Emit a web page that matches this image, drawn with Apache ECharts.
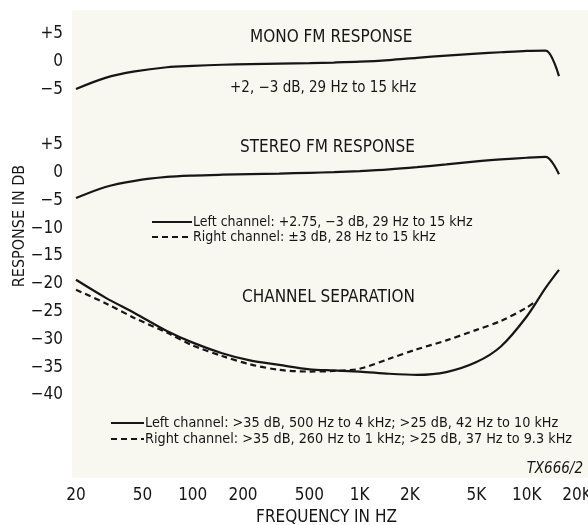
<!DOCTYPE html>
<html><head><meta charset="utf-8">
<script src="https://cdn.jsdelivr.net/npm/echarts@6/dist/echarts.min.js"></script>
<style>html,body{margin:0;padding:0;background:#fff}#c{width:588px;height:525px}</style>
</head><body><div id="c"></div>
<script>
// ---- data ----
const xTickFreqs = [20, 50, 100, 200, 500, 1000, 2000, 5000, 10000, 20000];
const xTickLabels = ['20', '50', '100', '200', '500', '1K', '2K', '5K', '10K', '20K'];
const yTicksMono = [-5, 0, 5];
const yTicksLower = [-40, -35, -30, -25, -20, -15, -10, -5, 0, 5];

const monoFreq = [20, 30, 45, 70, 100, 150, 220, 330, 500, 700, 1000, 1500, 2200, 3300, 5000, 7000, 10000, 13000, 15600];
const monoDb = [-4.9, -2.9, -1.75, -1.0, -0.75, -0.55, -0.45, -0.35, -0.25, -0.15, 0, 0.3, 0.7, 1.1, 1.45, 1.7, 1.95, 2.0, -2.6];

const stereoFreq = [20, 30, 45, 70, 100, 150, 220, 330, 500, 700, 1000, 1500, 2200, 3300, 5000, 7000, 10000, 13000, 15600];
const stereoLeftDb = [-4.6, -2.6, -1.5, -0.8, -0.55, -0.4, -0.3, -0.2, -0.05, 0.05, 0.25, 0.55, 0.95, 1.45, 2.0, 2.35, 2.65, 2.8, -0.3];
const stereoRightDb = [];

const sepLeftFreq = [20, 30, 45, 70, 100, 150, 220, 330, 500, 700, 1000, 1500, 2200, 3300, 5000, 7000, 10000, 13000, 15600];
const sepLeftDb = [-19.3, -22.5, -25.3, -28.5, -30.6, -32.5, -33.8, -34.6, -35.4, -35.6, -35.8, -36.2, -36.4, -35.9, -34.1, -31.3, -25.9, -20.7, -17.5];
const sepRightFreq = [20, 30, 45, 70, 100, 150, 220, 330, 500, 700, 1000, 1500, 2200, 3300, 5000, 7000, 10000, 11300];
const sepRightDb = [-21.1, -23.5, -26.2, -28.8, -31.1, -33.0, -34.5, -35.5, -35.8, -35.7, -35.3, -33.5, -31.8, -30.2, -28.3, -26.7, -24.3, -23.2];

const nameStereoL = 'Left channel: +2.75, \u22123 dB, 29 Hz to 15 kHz';
const nameStereoR = 'Right channel: \u00b13 dB, 28 Hz to 15 kHz';
const nameSepL = 'Left channel: >35 dB, 500 Hz to 4 kHz; >25 dB, 42 Hz to 10 kHz';
const nameSepR = 'Right channel: >35 dB, 260 Hz to 1 kHz; >25 dB, 37 Hz to 9.3 kHz';

// ---- chart ----
const FONT = "'Liberation Sans Narrow', 'DejaVu Sans Condensed', 'Liberation Sans', sans-serif";
const INK = '#161616';
const pair = (fs, vs) => fs.map((f, i) => [Math.log10(f), vs[i]]);
const xMin = Math.log10(20), xMax = Math.log10(20000);
const yFmt = v => v > 0 ? '+' + v : (v < 0 ? '\u2212' + (-v) : '0');
const xFmt = v => {
  const i = xTickFreqs.findIndex(f => Math.abs(Math.log10(f) - v) < 1e-6);
  return i >= 0 ? xTickLabels[i] : '';
};
const lineBase = { type: 'line', showSymbol: false, symbol: 'none', smooth: 0.3, silent: true };

const chart = echarts.init(document.getElementById('c'), null, { renderer: 'canvas' });
chart.setOption({
  animation: false,
  backgroundColor: '#ffffff',
  textStyle: { fontFamily: FONT, color: INK },
  grid: [
    { left: 76, right: 11, top: 6.1, height: 111.2, containLabel: false, outerBoundsMode: 'none' },
    { left: 76, right: 11, top: 116.9, height: 361.4, containLabel: false, outerBoundsMode: 'none' }
  ],
  xAxis: [
    { gridIndex: 0, type: 'value', min: xMin, max: xMax, show: false },
    {
      gridIndex: 1, type: 'value', min: xMin, max: xMax,
      axisLine: { show: false }, axisTick: { show: false }, splitLine: { show: false },
      axisLabel: { customValues: xTickFreqs.map(f => Math.log10(f)), formatter: xFmt, margin: 9,
        fontSize: 17, fontFamily: FONT, color: INK },
      name: 'FREQUENCY IN HZ', nameLocation: 'middle', nameGap: 31,
      nameTextStyle: { fontSize: 17, fontFamily: FONT, color: INK }
    }
  ],
  yAxis: [
    {
      gridIndex: 0, type: 'value', min: -10, max: 10, interval: 5,
      axisLine: { show: false }, axisTick: { show: false }, splitLine: { show: false },
      axisLabel: { customValues: yTicksMono, formatter: yFmt, margin: 13, fontSize: 17, fontFamily: FONT, color: INK }
    },
    {
      gridIndex: 1, type: 'value', min: -55, max: 10, interval: 5,
      axisLine: { show: false }, axisTick: { show: false }, splitLine: { show: false },
      axisLabel: { customValues: yTicksLower, formatter: yFmt, margin: 13, fontSize: 17, fontFamily: FONT, color: INK }
    }
  ],
  legend: [
    {
      data: [nameStereoL, nameStereoR], orient: 'vertical', left: 146, top: 210,
      itemWidth: 40, itemHeight: 10, itemGap: 1, selectedMode: false,
      itemStyle: { opacity: 0 },
      textStyle: { fontSize: 14, lineHeight: 14, fontFamily: FONT, color: INK, padding: [0, 0, 0, -4] }
    },
    {
      data: [nameSepL, nameSepR], orient: 'vertical', left: 105, top: 411,
      itemWidth: 33, itemHeight: 10, itemGap: 2, selectedMode: false,
      itemStyle: { opacity: 0 },
      textStyle: { fontSize: 14.3, lineHeight: 14, fontFamily: FONT, color: INK, padding: [0, 0, 0, -4] }
    }
  ],
  graphic: [
    { type: 'rect', z: -10, silent: true, shape: { x: 72, y: 10, width: 516, height: 468 }, style: { fill: '#f8f7f0' } },
    { type: 'text', left: 250, top: 29, style: { text: 'MONO FM RESPONSE', font: '17px ' + FONT, fill: INK } },
    { type: 'text', left: 230, top: 81, style: { text: '+2, \u22123 dB, 29 Hz to 15 kHz', font: '15px ' + FONT, fill: INK } },
    { type: 'text', left: 240, top: 139, style: { text: 'STEREO FM RESPONSE', font: '17px ' + FONT, fill: INK } },
    { type: 'text', left: 242, top: 289, style: { text: 'CHANNEL SEPARATION', font: '17px ' + FONT, fill: INK } },
    { type: 'text', right: 5, top: 462, style: { text: 'TX666/2', font: 'italic 15px ' + FONT, fill: INK } },
    { type: 'text', x: 20, y: 226, rotation: Math.PI / 2, style: { text: 'RESPONSE IN DB', font: '16px ' + FONT, fill: INK, align: 'center', verticalAlign: 'middle' } }
  ],
  series: [
    Object.assign({}, lineBase, { name: 'Mono', xAxisIndex: 0, yAxisIndex: 0, data: pair(monoFreq, monoDb),
      lineStyle: { color: INK, width: 2.2 }, itemStyle: { color: INK } }),
    Object.assign({}, lineBase, { name: nameStereoL, xAxisIndex: 1, yAxisIndex: 1, data: pair(stereoFreq, stereoLeftDb),
      lineStyle: { color: INK, width: 2.2 }, itemStyle: { color: INK } }),
    Object.assign({}, lineBase, { name: nameStereoR, xAxisIndex: 1, yAxisIndex: 1, data: stereoRightDb,
      lineStyle: { color: INK, width: 2.2, type: [6, 4] }, itemStyle: { color: INK } }),
    Object.assign({}, lineBase, { name: nameSepL, xAxisIndex: 1, yAxisIndex: 1, data: pair(sepLeftFreq, sepLeftDb),
      lineStyle: { color: INK, width: 2.2 }, itemStyle: { color: INK } }),
    Object.assign({}, lineBase, { name: nameSepR, xAxisIndex: 1, yAxisIndex: 1, data: pair(sepRightFreq, sepRightDb),
      lineStyle: { color: INK, width: 2.2, type: [6, 4] }, itemStyle: { color: INK } })
  ]
});
</script>
</body></html>
